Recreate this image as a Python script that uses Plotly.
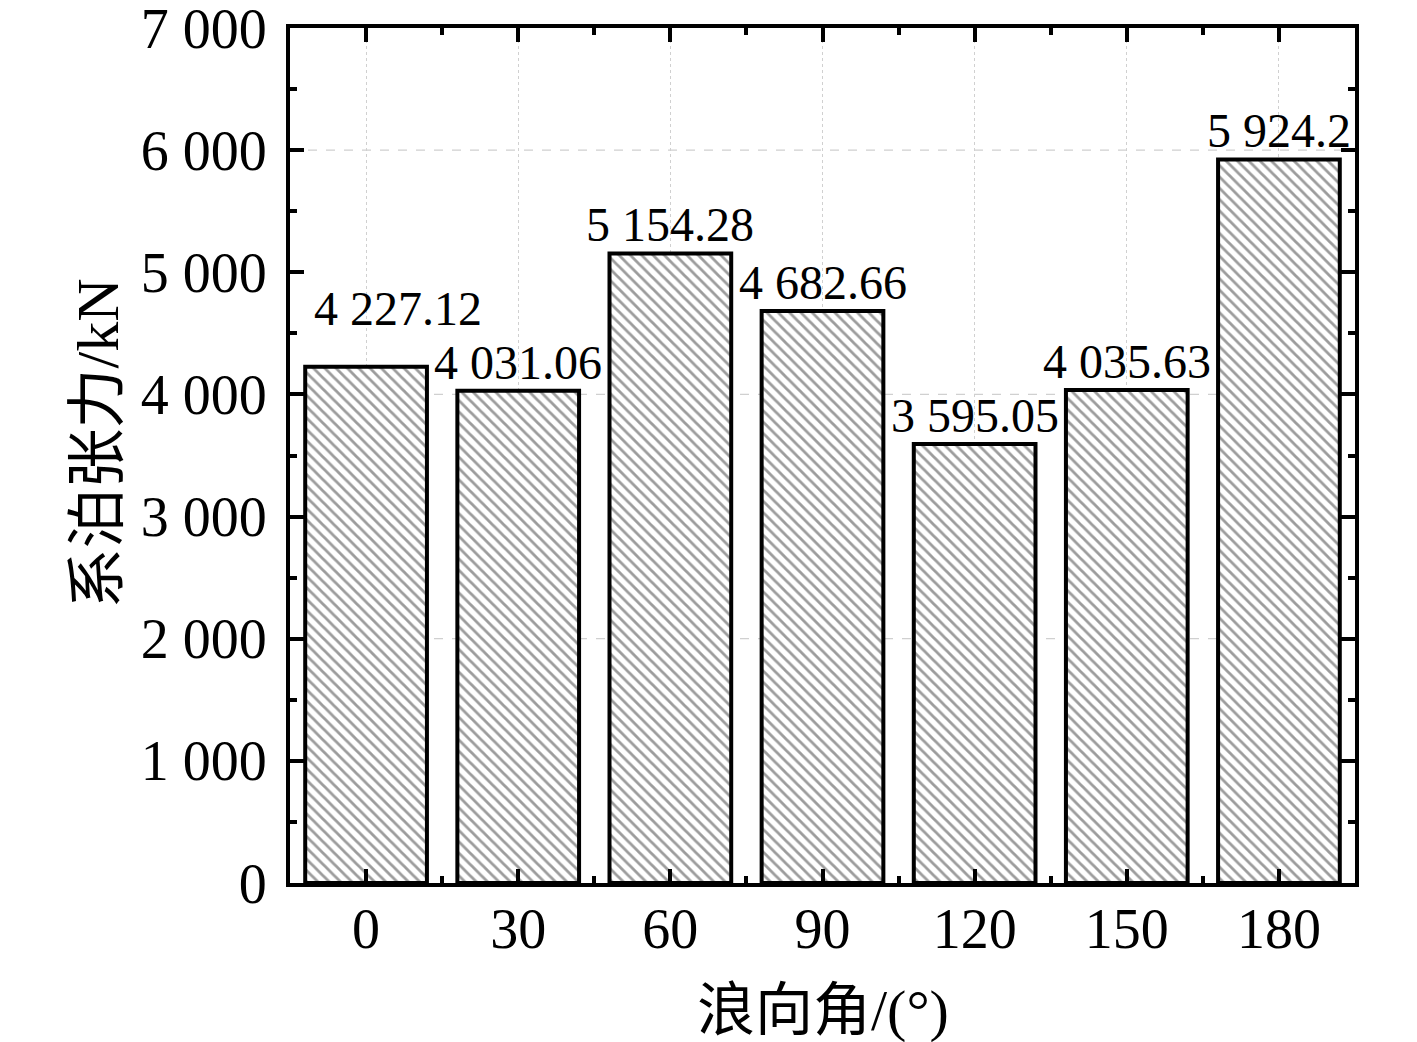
import plotly.graph_objects as go

# wave heading angle (deg) and mooring tension (kN)
angles = [0, 30, 60, 90, 120, 150, 180]
tension = [4227.12, 4031.06, 5154.28, 4682.66, 3595.05, 4035.63, 5924.2]
labels = ["4 227.12", "4 031.06", "5 154.28", "4 682.66", "3 595.05", "4 035.63", "5 924.2"]
y_ticks = [0, 1000, 2000, 3000, 4000, 5000, 6000, 7000]
y_ticktext = ["0", "1 000", "2 000", "3 000", "4 000", "5 000", "6 000", "7 000"]
grid_levels = [2000, 4000, 6000]

LATIN = "Liberation Serif, Times New Roman, serif"
CJK = "Liberation Serif, Noto Sans CJK SC, serif"
GRID = "#d0d0d0"

# label nudges (px), first label sits higher and to the right
label_shift = {0: (32, 30)}

fig = go.Figure()

fig.add_trace(go.Bar(
    x=angles, y=tension, width=24,
    marker=dict(
        color="white",
        line=dict(color="black", width=4),
        pattern=dict(shape="\\", fgcolor="#3a3a3a", bgcolor="white",
                     size=8, solidity=0.35),
    ),
    showlegend=False,
))

for g in grid_levels:
    fig.add_hline(y=g, line=dict(color=GRID, width=1.2, dash="dash"), layer="below")

for i, (a, v, t) in enumerate(zip(angles, tension, labels)):
    dx, dy = label_shift.get(i, (0, 0))
    fig.add_annotation(
        x=a, y=v, text=t, showarrow=False, yanchor="bottom",
        xshift=dx, yshift=0 + dy,
        font=dict(family=LATIN, size=48, color="black"),
    )

# axis titles as annotations for exact placement
fig.add_annotation(
    text="浪向角/(°)", xref="paper", yref="paper", x=0.5, y=0,
    xanchor="center", yanchor="middle", yshift=-127, showarrow=False,
    font=dict(family=CJK, size=58, color="black"),
)
fig.add_annotation(
    text="系泊张力/kN", xref="paper", yref="paper", x=0, y=0.5,
    xanchor="center", yanchor="middle", xshift=-193, yshift=12,
    textangle=-90, showarrow=False,
    font=dict(family=CJK, size=60, color="black"),
)

axis_common = dict(
    showline=True, linecolor="black", linewidth=4, mirror="ticks",
    ticks="inside", ticklen=14, tickwidth=3.5, tickcolor="black",
    zeroline=False, automargin=False, ticklabeloverflow="allow",
    tickfont=dict(family=LATIN, size=56, color="black"),
)

fig.update_xaxes(
    **axis_common,
    range=[-15, 195], tickmode="array", tickvals=angles,
    ticktext=[str(a) for a in angles],
    showgrid=True, gridcolor=GRID, griddash="dot", gridwidth=1.2,
    minor=dict(tickmode="array", tickvals=[a + 15 for a in angles[:-1]],
               ticks="inside", ticklen=7, tickwidth=3.5, tickcolor="black"),
    ticklabelstandoff=-6,
)
fig.update_yaxes(
    **axis_common,
    range=[0, 7000], tickmode="array", tickvals=y_ticks, ticktext=y_ticktext,
    showgrid=False,
    minor=dict(tickmode="array", tickvals=[v + 500 for v in y_ticks[:-1]],
               ticks="inside", ticklen=7, tickwidth=3.5, tickcolor="black"),
    ticklabelstandoff=8,
)

# page body keeps an 8px default margin, so shift the frame accordingly
fig.update_layout(
    width=1417, height=1042,
    margin=dict(l=282, r=70, t=20, b=167),
    paper_bgcolor="white", plot_bgcolor="white",
    bargap=0.2,
)

fig.write_html("out.html")
